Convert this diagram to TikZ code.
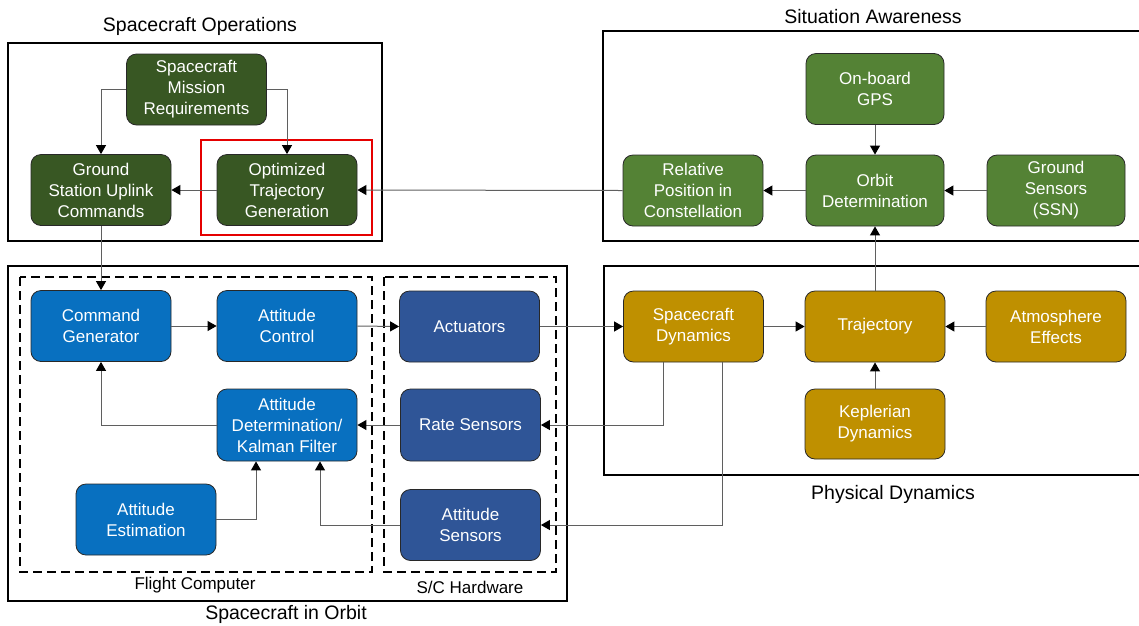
\documentclass[tikz,border=0pt]{standalone}
\usepackage{fontspec}
\setmainfont{Liberation Sans}
\usetikzlibrary{arrows.meta,positioning}
\definecolor{opsgreen}{RGB}{56,87,35}
\definecolor{sitgreen}{RGB}{84,130,53}
\definecolor{fcblue}{RGB}{8,112,192}
\definecolor{hwblue}{RGB}{47,85,151}
\definecolor{dyngold}{RGB}{191,144,0}
\definecolor{edgegray}{RGB}{40,40,40}
\definecolor{linegray}{RGB}{95,95,95}
\tikzset{
  blk/.style={draw=edgegray, line width=0.8pt, rounded corners=10pt, text=white, align=center,
    minimum width=140pt, minimum height=71pt, inner sep=2pt, font=\fontsize{17}{21}\selectfont},
  ops/.style={blk, fill=opsgreen},
  sit/.style={blk, fill=sitgreen},
  fc/.style={blk, fill=fcblue},
  hw/.style={blk, fill=hwblue},
  dyn/.style={blk, fill=dyngold},
  grp/.style={draw=black, line width=1.5pt},
  dgrp/.style={draw=black, line width=1.5pt, dash pattern=on 9pt off 5pt},
  ttl/.style={font=\fontsize{19.5}{22}\selectfont, inner sep=0pt},
  sublbl/.style={font=\fontsize{17}{20}\selectfont, inner sep=0pt},
  arr/.style={draw=linegray, line width=1pt, -{Triangle[length=9pt,width=10pt,color=black]}},
}
\begin{document}
\begin{tikzpicture}[x=1pt,y=-1pt]
\useasboundingbox (0,0) rectangle (1139,625);
% group boxes
\draw[grp] (8,43) rectangle (382,241);
\draw[grp] (603,31) rectangle (1145,241);
\draw[grp] (8,266) rectangle (567,601);
\draw[grp] (604,266) rectangle (1145,475);
\draw[dgrp] (20,277) rectangle (372,572);
\draw[dgrp] (384,277) rectangle (556,572);
% titles
\node[ttl] (tops) at (200,26) {Spacecraft Operations};
\node[ttl] (tsit) at (873,17) {Situation Awareness};
\node[ttl] (torb) at (286,614) {Spacecraft in Orbit};
\node[ttl] (tdyn) at (893,494) {Physical Dynamics};
\node[sublbl] (tfc) at (195,585) {Flight Computer};
\node[sublbl] (thw) at (470,587) {S/C Hardware};
% Spacecraft Operations
\node[ops] (req) at (196.5,89.5) {Spacecraft\\Mission\\Requirements};
\node[ops] (gsu) at (101,190) {Ground\\Station Uplink\\Commands};
\node[ops] (opt) at (287,190) {Optimized\\Trajectory\\Generation};
\draw[red!90!black, line width=2pt] (201,140) rectangle (372,235);
% Situation Awareness
\node[sit, minimum width=138pt] (gps) at (875,89) {On-board\\GPS};
\node[sit, minimum width=138pt] (orb) at (875,190.5) {Orbit\\Determination};
\node[sit] (rel) at (693,190.5) {Relative\\Position in\\Constellation};
\node[sit, minimum width=138pt] (gsen) at (1056,190.5) {Ground\\Sensors\\(SSN)};
% Flight computer
\node[fc] (cmd) at (101,326) {Command\\Generator};
\node[fc] (actl) at (287,326) {Attitude\\Control};
\node[fc, minimum height=72pt] (adet) at (287,425) {Attitude\\Determination/\\Kalman Filter};
\node[fc] (aest) at (146,519.5) {Attitude\\Estimation};
% Hardware
\node[hw] (act) at (469.5,326.5) {Actuators};
\node[hw, minimum height=72pt] (rate) at (470.5,425) {Rate Sensors};
\node[hw] (asen) at (470.5,525) {Attitude\\Sensors};
% Physical dynamics
\node[dyn] (scd) at (693.5,326.5) {Spacecraft\\Dynamics};
\node[dyn] (traj) at (875,326.5) {Trajectory};
\node[dyn] (atm) at (1056,326.5) {Atmosphere\\Effects};
\node[dyn, minimum height=70pt] (kep) at (875,424) {Keplerian\\Dynamics};
% connectors
\draw[arr] (req.west) -| (gsu.north);
\draw[arr] (req.east) -| (opt.north);
\draw[arr] (opt.west) -- (gsu.east);
\draw[arr] (rel.west) -- (opt.east);
\draw[arr] (orb.west) -- (rel.east);
\draw[arr] (gsen.west) -- (orb.east);
\draw[arr] (gps.south) -- (orb.north);
\draw[arr] (traj.north) -- (orb.south);
\draw[arr] (gsu.south) -- (cmd.north);
\draw[arr] (cmd.east) -- (actl.west);
\draw[arr] (actl.east) -- (act.west);
\draw[arr] (act.east) -- (scd.west);
\draw[arr] (scd.east) -- (traj.west);
\draw[arr] (atm.west) -- (traj.east);
\draw[arr] (kep.north) -- (traj.south);
\draw[arr] (adet.west) -| (cmd.south);
\draw[arr] (rate.west) -- (adet.east);
\draw[arr] (aest.east) -| ([xshift=-31pt]adet.south);
\draw[arr] (asen.west) -| ([xshift=33pt]adet.south);
\draw[arr] ([xshift=-30pt]scd.south) |- (rate.east);
\draw[arr] ([xshift=29pt]scd.south) |- (asen.east);
\end{tikzpicture}
\end{document}
